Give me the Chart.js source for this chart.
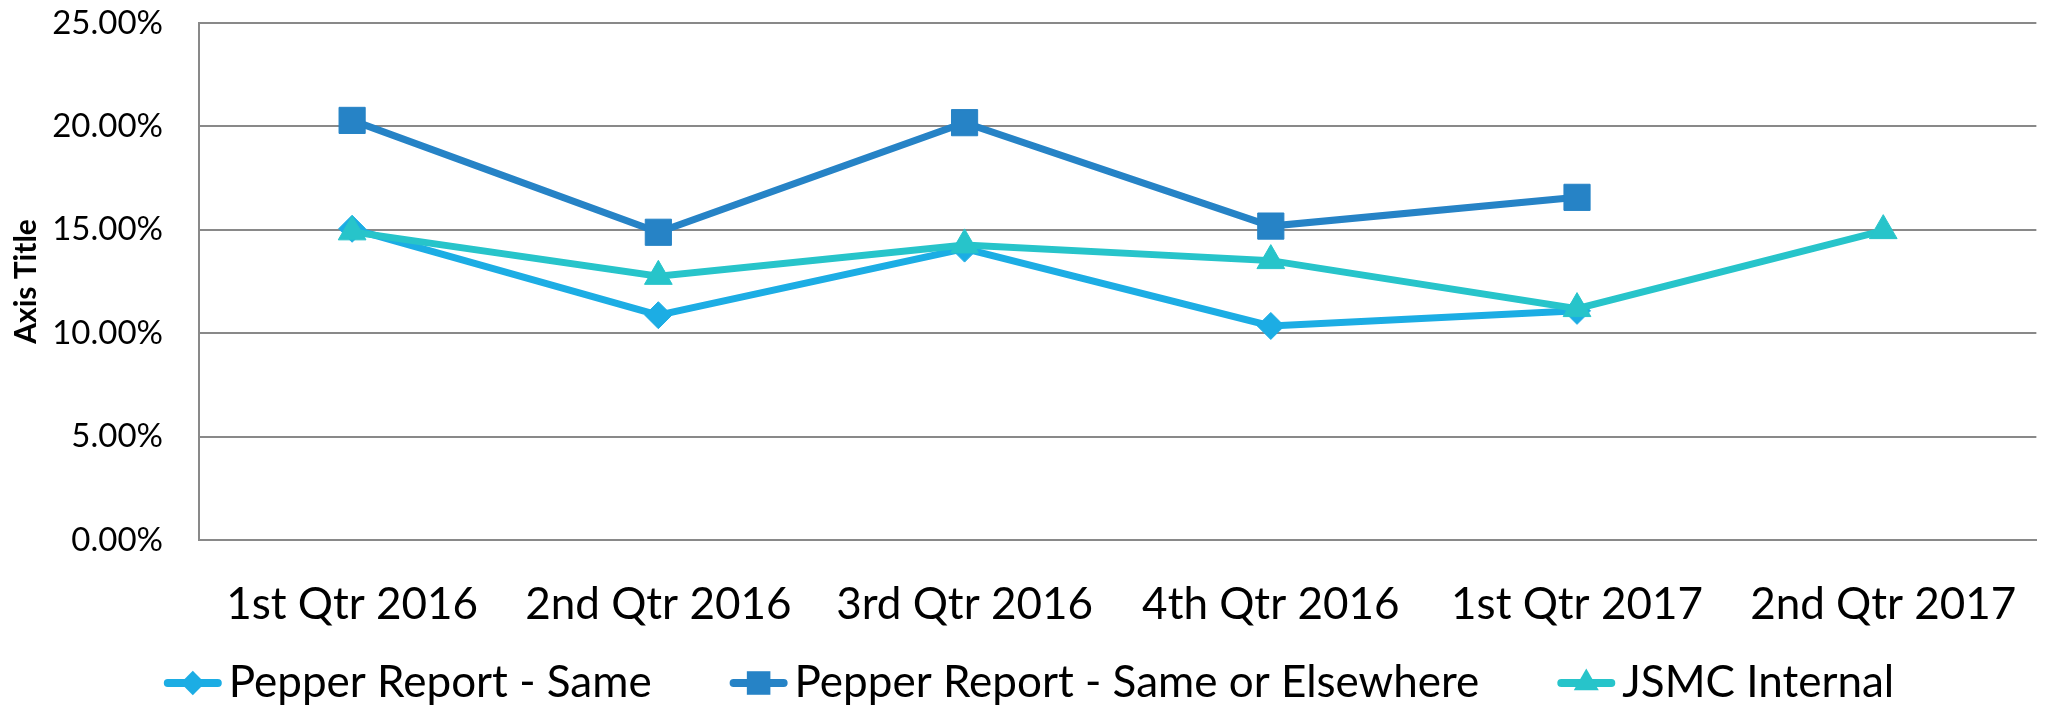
<!DOCTYPE html>
<html>
<head>
<meta charset="utf-8">
<script src="https://cdn.jsdelivr.net/npm/chart.js@4.4.0/dist/chart.umd.min.js"></script>
<style>
  html, body { margin: 0; padding: 0; background: #fff; overflow: hidden; }
  #wrap { width: 2056px; height: 708px; }
</style>
</head>
<body>
<div id="wrap"><canvas id="myChart" width="2056" height="708"></canvas></div>
<script>
// ---- data
const quarters = ["1st Qtr 2016", "2nd Qtr 2016", "3rd Qtr 2016", "4th Qtr 2016", "1st Qtr 2017", "2nd Qtr 2017"];
const pepperSame = [15.05, 10.87, 14.09, 10.35, 11.08, null];
const pepperElsewhere = [20.29, 14.88, 20.18, 15.18, 16.57, null];
const jsmcInternal = [14.90, 12.75, 14.27, 13.51, 11.19, 14.96];

const yMin = 0;
const yMax = 25;
const yStep = 5;
const yTitle = "Axis Title";

const gridColor = "#898989";

// Excel-like legend: line with marker in the middle
function drawMarker(ctx, style, x, y, r, color) {
    ctx.beginPath();
    if (style === "rectRot") {
        ctx.moveTo(x, y - r);
        ctx.lineTo(x + r, y);
        ctx.lineTo(x, y + r);
        ctx.lineTo(x - r, y);
    } else if (style === "rect") {
        const s = Math.SQRT1_2 * r;
        ctx.rect(x - s, y - s, 2 * s, 2 * s);
    } else if (style === "triangle") {
        const w = Math.sin(Math.PI / 3) * r;
        ctx.moveTo(x, y - r);
        ctx.lineTo(x + w, y + r / 2);
        ctx.lineTo(x - w, y + r / 2);
    }
    ctx.closePath();
    ctx.fillStyle = color;
    ctx.fill();
}

const excelLegend = {
    id: "excelLegend",
    afterDraw(chart) {
        const ctx = chart.ctx;
        ctx.save();
        ctx.font = "44px Lato";
        const lineLen = 58, gapText = 7, gapItem = 78;
        const items = chart.data.datasets.map(ds => ({ ds: ds, w: ctx.measureText(ds.label).width }));
        let total = gapItem * (items.length - 1);
        items.forEach(it => total += lineLen + gapText + it.w);
        let x = 1029 - total / 2;
        const y = 683;
        items.forEach(it => {
            ctx.strokeStyle = it.ds.borderColor;
            ctx.lineWidth = 8;
            ctx.lineCap = "round";
            ctx.beginPath();
            ctx.moveTo(x + 4, y);
            ctx.lineTo(x + lineLen - 4, y);
            ctx.stroke();
            drawMarker(ctx, it.ds.pointStyle, x + lineLen / 2, y, it.ds.pointRadius * 0.9, it.ds.borderColor);
            ctx.fillStyle = "#000";
            ctx.textBaseline = "alphabetic";
            ctx.textAlign = "left";
            ctx.fillText(it.ds.label, x + lineLen + gapText, 697);
            x += lineLen + gapText + it.w + gapItem;
        });
        ctx.restore();
    }
};

const ctx = document.getElementById("myChart");

new Chart(ctx, {
    type: "line",
    data: {
        labels: quarters,
        datasets: [{
            label: "Pepper Report - Same",
            data: pepperSame,
            borderColor: "#1CADE4",
            backgroundColor: "#1CADE4",
            pointStyle: "rectRot",
            pointRadius: 13.5,
            order: 2
        }, {
            label: "Pepper Report - Same or Elsewhere",
            data: pepperElsewhere,
            borderColor: "#2683C6",
            backgroundColor: "#2683C6",
            pointStyle: "rect",
            pointRadius: 18.5,
            order: 1
        }, {
            label: "JSMC Internal",
            data: jsmcInternal,
            borderColor: "#27C4CA",
            backgroundColor: "#27C4CA",
            pointStyle: "triangle",
            pointRadius: 16,
            order: 0
        }]
    },
    options: {
        responsive: false,
        animation: false,
        devicePixelRatio: 1,
        layout: { padding: { top: 23, right: 1, left: 0, bottom: 0 } },
        elements: {
            line: { borderWidth: 7, tension: 0 },
            point: { borderWidth: 1, hoverRadius: 0 }
        },
        plugins: {
            legend: { display: false },
            tooltip: { enabled: false }
        },
        scales: {
            x: {
                offset: true,
                grid: { display: false, drawTicks: false },
                border: { color: gridColor, width: 2 },
                ticks: {
                    padding: 38,
                    color: "#000",
                    maxRotation: 0,
                    autoSkip: false,
                    font: { family: "Lato", size: 44 }
                },
                afterFit(scale) { scale.height = 168; }
            },
            y: {
                min: yMin,
                max: yMax,
                // invisible tick marks push the labels away from the axis
                grid: { color: gridColor, lineWidth: 2, drawTicks: true, tickLength: 36, tickColor: "rgba(0,0,0,0)" },
                border: { color: gridColor, width: 2 },
                ticks: {
                    stepSize: yStep,
                    padding: 0,
                    color: "#000",
                    font: { family: "Lato", size: 33 },
                    callback: v => v.toFixed(2) + "%"
                },
                title: {
                    display: true,
                    text: yTitle,
                    color: "#000",
                    font: { family: "Lato", size: 30, weight: "bold" },
                    padding: { top: 8, bottom: 0 }
                },
                afterFit(scale) { scale.width = 199; }
            }
        }
    },
    plugins: [excelLegend]
});
</script>
</body>
</html>
